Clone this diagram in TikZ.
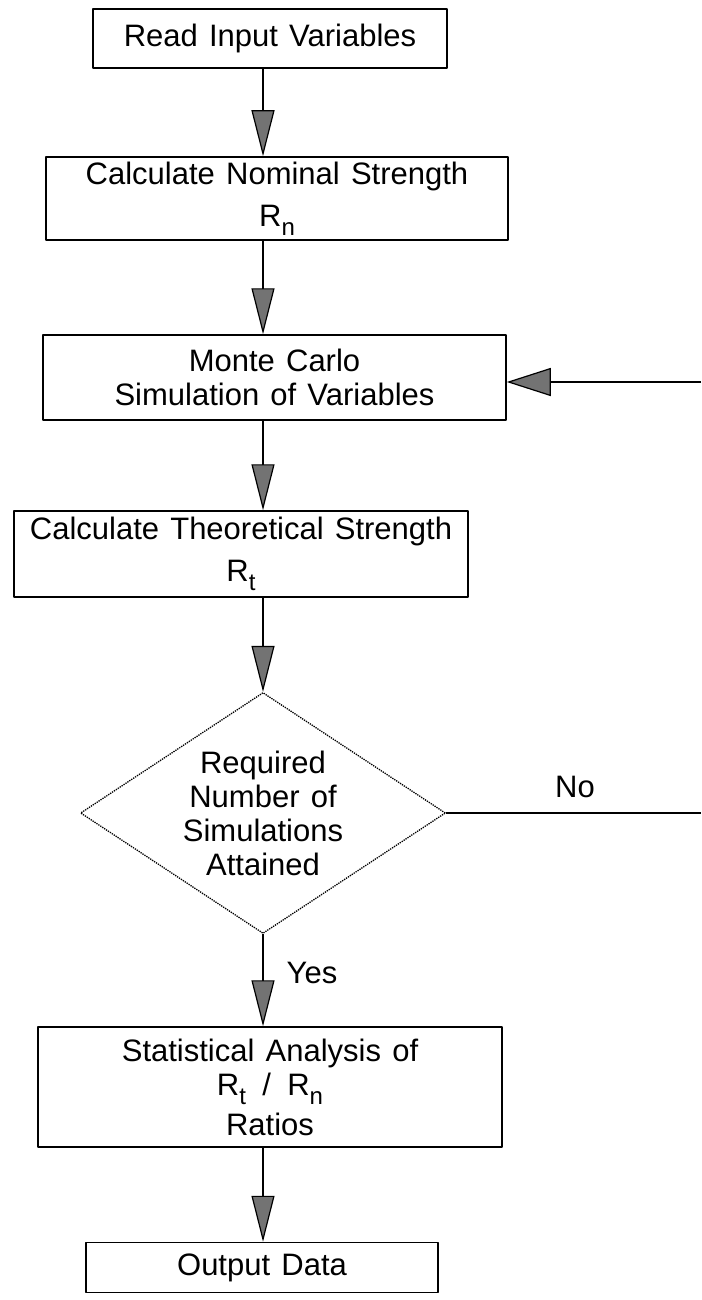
\documentclass[tikz,border=0pt]{standalone}
\usepackage{fontspec}
\setmainfont[WordSpace=1.3]{Liberation Sans}
\usetikzlibrary{arrows.meta,shapes.geometric,calc}
\newcommand{\lowsub}[1]{\raisebox{-9pt}{\fontsize{24}{24}\selectfont #1}}

\begin{document}
\begin{tikzpicture}[x=1pt, y=-1pt, line join=round,
  every node/.style={font=\fontsize{31}{34}\selectfont},
  box/.style={draw, line width=1.5pt, align=center, inner sep=0pt},
  decision/.style={diamond, draw, densely dotted, line width=1.3pt, align=center, inner sep=0pt, aspect=1.5},
  flow/.style={line width=1.2pt, -{Triangle[length=46pt,width=23pt,fill=black!55]}}]
\useasboundingbox (0,0) rectangle (701,1300);
\coordinate (axis) at (263,0);
\node[box, minimum width=354pt, minimum height=59pt]  (read)        at (270,38.5)   {Read Input Variables};
\node[box, minimum width=462pt, minimum height=83pt]  (nominal)     at (277,198.5)  {Calculate Nominal Strength\\[8pt] R\lowsub{n}};
\node[box, minimum width=463pt, minimum height=85pt]  (montecarlo)  at (274.5,377.5) {Monte Carlo\\Simulation of Variables};
\node[box, minimum width=454pt, minimum height=86pt]  (theoretical) at (241,554)    {Calculate Theoretical Strength\\[8pt] R\lowsub{t}};
\node[decision, minimum width=365pt, minimum height=241pt] (check) at (263,813) {Required\\Number of\\Simulations\\Attained};
\node[box, minimum width=464pt, minimum height=120pt] (stats)       at (270,1087)   {Statistical Analysis of\\R\lowsub{t} \,/\, R\lowsub{n}\\[6pt]Ratios};
\node[box, minimum width=352pt, minimum height=50pt]  (output)      at (262,1267.5) {Output Data};
\node (no)  at (575,787) {No};
\node (yes) at (312,973) {Yes};
\coordinate (loopout) at (701,813);
\coordinate (loopin)  at (701,382);
% main flow
\draw[flow] (read.south -| axis) -- (nominal.north -| axis);
\draw[flow] (nominal.south -| axis) -- (montecarlo.north -| axis);
\draw[flow] (montecarlo.south -| axis) -- (theoretical.north -| axis);
\draw[flow] (theoretical.south -| axis) -- (check.north);
\draw[flow] (check.south) -- (stats.north -| axis);
\draw[flow] (stats.south -| axis) -- (output.north -| axis);
% loop back
\draw[line width=1.2pt] (check.east) -- (loopout);
\draw[line width=1.2pt, -{Triangle[length=44pt,width=28pt,fill=black!55]}] (loopin) -- (loopin -| montecarlo.east);
\end{tikzpicture}
\end{document}
